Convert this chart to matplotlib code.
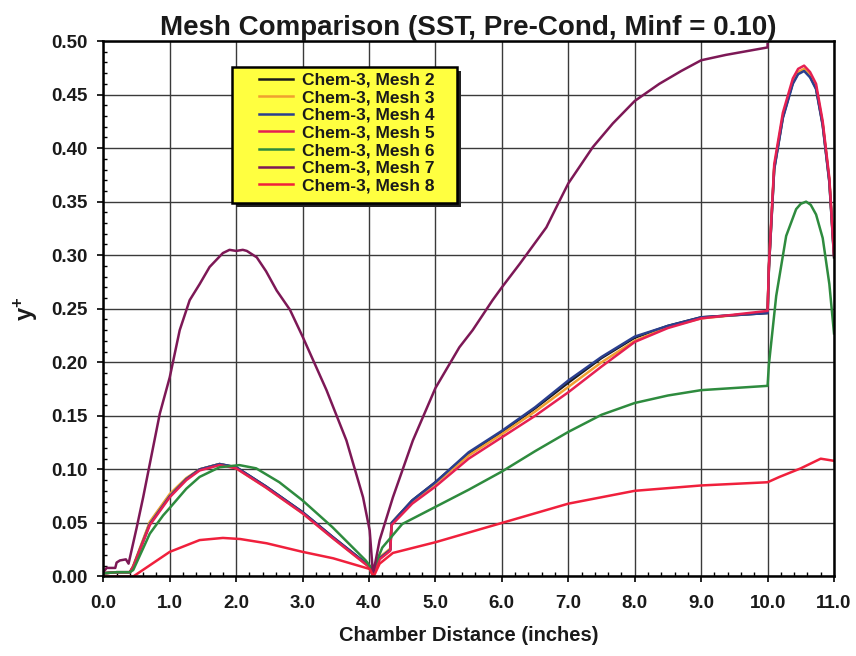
import matplotlib
matplotlib.use("Agg")
import matplotlib.pyplot as plt
from matplotlib.patches import Rectangle
from matplotlib.ticker import MultipleLocator, FormatStrFormatter

# shared x stations for the tightly grouped meshes 2-5
x_cluster = [0.0, 0.2, 0.4, 0.45, 0.7, 1.0, 1.25, 1.45, 1.75, 2.0, 2.45, 3.0, 3.45,
             4.0, 4.06, 4.16, 4.32, 4.34, 4.65, 5.0, 5.5, 6.0, 6.5, 7.0, 7.5, 8.0,
             8.5, 9.0, 10.0, 10.02, 10.1, 10.23, 10.38, 10.46, 10.55, 10.64, 10.73,
             10.83, 10.93, 11.0]
y_mesh2 = [0.003, 0.004, 0.004, 0.009, 0.050, 0.076, 0.091, 0.100, 0.105, 0.102, 0.084,
           0.060, 0.037, 0.010, 0.001, 0.017, 0.025, 0.050, 0.071, 0.088, 0.115, 0.135,
           0.157, 0.181, 0.204, 0.223, 0.234, 0.242, 0.246, 0.288, 0.381, 0.429, 0.461,
           0.470, 0.473, 0.467, 0.456, 0.422, 0.369, 0.298]
y_mesh3 = [0.003, 0.004, 0.004, 0.010, 0.051, 0.077, 0.092, 0.100, 0.105, 0.101, 0.083,
           0.059, 0.036, 0.009, 0.001, 0.018, 0.026, 0.050, 0.070, 0.087, 0.113, 0.133,
           0.154, 0.177, 0.200, 0.220, 0.233, 0.241, 0.247, 0.289, 0.382, 0.430, 0.462,
           0.471, 0.474, 0.468, 0.457, 0.423, 0.370, 0.302]
y_mesh4 = [0.003, 0.004, 0.004, 0.009, 0.049, 0.075, 0.091, 0.100, 0.105, 0.102, 0.084,
           0.060, 0.037, 0.010, 0.001, 0.017, 0.025, 0.050, 0.071, 0.088, 0.116, 0.136,
           0.158, 0.183, 0.205, 0.224, 0.234, 0.242, 0.246, 0.288, 0.380, 0.428, 0.460,
           0.469, 0.472, 0.466, 0.455, 0.421, 0.368, 0.300]
y_mesh5 = [0.003, 0.004, 0.004, 0.009, 0.048, 0.074, 0.090, 0.099, 0.104, 0.101, 0.083,
           0.059, 0.036, 0.009, 0.001, 0.016, 0.024, 0.048, 0.068, 0.084, 0.110, 0.130,
           0.150, 0.172, 0.196, 0.219, 0.232, 0.241, 0.248, 0.290, 0.385, 0.433, 0.465,
           0.474, 0.477, 0.471, 0.460, 0.425, 0.372, 0.300]

x_mesh6 = [0.0, 0.2, 0.4, 0.45, 0.7, 0.9, 1.0, 1.25, 1.45, 1.75, 2.05, 2.3, 2.65, 3.0,
           3.45, 3.95, 4.06, 4.2, 4.5, 5.0, 5.5, 6.0, 6.5, 7.0, 7.5, 8.0, 8.5, 9.0, 9.5,
           10.0, 10.02, 10.13, 10.28, 10.43, 10.5, 10.58, 10.65, 10.73, 10.83, 10.93, 11.0]
y_mesh6 = [0.003, 0.004, 0.004, 0.006, 0.040, 0.057, 0.064, 0.082, 0.093, 0.102, 0.104,
           0.101, 0.088, 0.071, 0.046, 0.015, 0.006, 0.027, 0.049, 0.065, 0.081, 0.098,
           0.117, 0.135, 0.151, 0.162, 0.169, 0.174, 0.176, 0.178, 0.198, 0.262, 0.318,
           0.343, 0.348, 0.350, 0.347, 0.338, 0.316, 0.273, 0.227]

x_mesh7 = [0.0, 0.05, 0.18, 0.2, 0.25, 0.34, 0.38, 0.5, 0.6, 0.85, 1.0, 1.15, 1.3, 1.45,
           1.6, 1.8, 1.9, 2.0, 2.1, 2.16, 2.31, 2.45, 2.61, 2.81, 3.0, 3.36, 3.66, 3.91,
           4.01, 4.06, 4.16, 4.36, 4.66, 5.0, 5.36, 5.56, 5.86, 6.0, 6.27, 6.67, 6.87,
           7.0, 7.37, 7.67, 8.0, 8.37, 8.7, 9.0, 9.37, 10.0, 10.0]
y_mesh7 = [0.004, 0.008, 0.008, 0.013, 0.015, 0.016, 0.012, 0.045, 0.074, 0.152, 0.186,
           0.230, 0.258, 0.273, 0.289, 0.302, 0.305, 0.304, 0.305, 0.304, 0.298, 0.285,
           0.267, 0.249, 0.224, 0.174, 0.127, 0.074, 0.043, 0.002, 0.034, 0.074, 0.127,
           0.176, 0.214, 0.230, 0.258, 0.270, 0.292, 0.326, 0.351, 0.367, 0.401, 0.423,
           0.444, 0.460, 0.472, 0.482, 0.487, 0.494, 0.497]

x_mesh8 = [0.0, 0.45, 1.0, 1.45, 1.8, 2.06, 2.46, 3.0, 3.46, 4.01, 4.07, 4.16, 4.36, 5.0,
           6.0, 7.0, 8.0, 9.0, 10.0, 10.18, 10.5, 10.8, 11.0]
y_mesh8 = [0.000, 0.000, 0.023, 0.034, 0.036, 0.035, 0.031, 0.023, 0.017, 0.007, 0.000,
           0.012, 0.022, 0.032, 0.050, 0.068, 0.080, 0.085, 0.088, 0.093, 0.101, 0.110,
           0.108]

labels = ["Chem-3, Mesh 2", "Chem-3, Mesh 3", "Chem-3, Mesh 4", "Chem-3, Mesh 5",
          "Chem-3, Mesh 6", "Chem-3, Mesh 7", "Chem-3, Mesh 8"]
colors = ["#1a1a1a", "#f0a030", "#2a3f8f", "#e62052", "#2e8b3e", "#7d1856", "#f0203c"]

plt.rcParams["font.family"] = ["Liberation Sans", "DejaVu Sans"]
plt.rcParams["font.weight"] = "bold"
plt.rcParams["mathtext.fontset"] = "custom"
plt.rcParams["mathtext.bf"] = "Liberation Sans:bold"

fig = plt.figure(figsize=(8.56, 6.56), dpi=100)
ax = fig.add_axes([0.1207, 0.1212, 0.8536, 0.8163])

series = [(x_cluster, y_mesh2), (x_cluster, y_mesh3), (x_cluster, y_mesh4),
          (x_cluster, y_mesh5), (x_mesh6, y_mesh6), (x_mesh7, y_mesh7),
          (x_mesh8, y_mesh8)]
for (xs, ys), lab, c in zip(series, labels, colors):
    ax.plot(xs, ys, color=c, lw=1.8, label=lab)

ax.set_xlim(0, 11)
ax.set_ylim(0, 0.5)
ax.xaxis.set_major_locator(MultipleLocator(1.0))
ax.xaxis.set_minor_locator(MultipleLocator(0.2))
ax.yaxis.set_major_locator(MultipleLocator(0.05))
ax.yaxis.set_minor_locator(MultipleLocator(0.01))
ax.xaxis.set_major_formatter(FormatStrFormatter("%.1f"))
ax.yaxis.set_major_formatter(FormatStrFormatter("%.2f"))
ax.tick_params(which="major", direction="out", length=4.5, width=1.2,
               labelsize=13.5, labelcolor="#1a1a1a")
ax.tick_params(axis="x", which="major", pad=9)
ax.tick_params(axis="y", which="major", pad=7)
ax.tick_params(which="minor", direction="in", length=3.2, width=1.0)
ax.grid(True, which="major", color="#3a3a3a", lw=1.0)
ax.set_axisbelow(True)
for s in ax.spines.values():
    s.set_linewidth(1.8)

ax.set_title("Mesh Comparison (SST, Pre-Cond, Minf = 0.10)", fontsize=20,
             fontweight="bold", color="#1a1a1a", pad=4)
ax.set_xlabel("Chamber Distance (inches)", fontsize=14.5, fontweight="bold",
              color="#1a1a1a")
ax.xaxis.set_label_coords(0.5, -0.092)
ax.set_ylabel(r"$\mathbf{y^{+}}$", fontsize=17, color="#1a1a1a")
ax.yaxis.set_label_coords(-0.086, 0.5)

# yellow legend panel with dark drop shadow
bx0, by0, bw, bh = 0.176, 0.6975, 0.308, 0.254
ax.add_patch(Rectangle((bx0 + 0.0055, by0 - 0.0075), bw, bh, transform=ax.transAxes,
                       facecolor="#222222", edgecolor="none", zorder=8))
ax.add_patch(Rectangle((bx0, by0), bw, bh, transform=ax.transAxes,
                       facecolor="#ffff40", edgecolor="black", lw=1.8, zorder=9))
leg = ax.legend(loc="upper left", bbox_to_anchor=(0.2131, 0.941), frameon=False,
                borderpad=0, borderaxespad=0, fontsize=12.5, handlelength=1.95,
                handletextpad=0.5, labelspacing=0.14)
leg.set_zorder(10)
for t in leg.get_texts():
    t.set_color("#1a1a1a")

fig.savefig("out.png", dpi=100)
